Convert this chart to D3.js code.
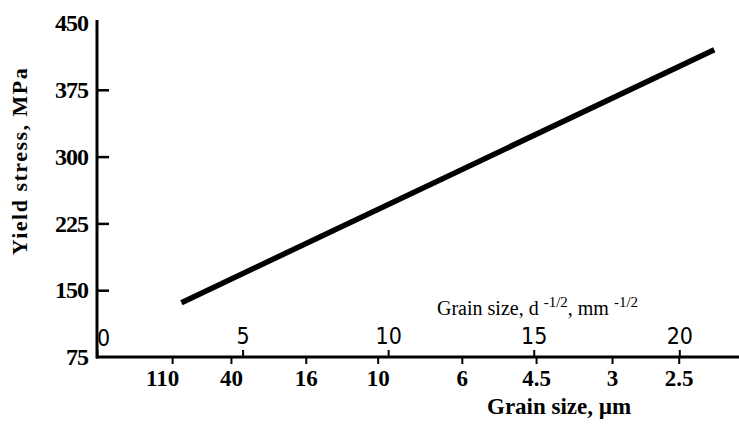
<!DOCTYPE html>
<html>
<head>
<meta charset="utf-8">
<script src="https://cdn.jsdelivr.net/npm/d3@7"></script>
<style>
  body { margin: 0; background: #fff; }
</style>
</head>
<body>
<div id="dataViz"></div>
<script>
//DATA
// yield stress line, x in d^-1/2 (mm^-1/2), y in MPa
let lineX = [2.9, 21.2];
let lineY = [136, 420];

// upper scale ticks (d^-1/2)
let topTicks = [0, 5, 10, 15, 20];
// lower scale: grain size in um, placed at these d^-1/2 positions
let bottomLabels = ["110", "40", "16", "10", "6", "4.5", "3", "2.5"];
let bottomPos = [2.58, 4.6, 7.17, 9.64, 12.53, 15.08, 17.69, 19.98];

// stress ticks
let yTicks = [75, 150, 225, 300, 375, 450];

//Create DIMENSIONS
let WIDTH = 739,
  HEIGHT = 427;

let svg = d3
  .select("#dataViz")
  .append("svg")
  .attr("width", WIDTH)
  .attr("height", HEIGHT);

//Scales
let xScale = d3.scaleLinear().domain([0, 22.05]).range([97, 739]);
let yScale = d3.scaleLinear().domain([75, 450]).range([357, 23]);

//Y-AXIS
let yAxis = svg
  .append("g")
  .attr("transform", "translate(97,0)")
  .call(
    d3.axisLeft(yScale).tickValues(yTicks).tickSize(-12).tickPadding(9)
  );
yAxis.select(".domain").remove();
yAxis
  .selectAll(".tick line")
  .attr("stroke", "#000")
  .attr("stroke-width", 2.5)
  .style("display", (d) => (d == 75 || d == 450 ? "none" : null));
yAxis
  .selectAll(".tick text")
  .attr("fill", "#000")
  .style("font-family", "'Liberation Serif', serif")
  .style("font-weight", "bold")
  .style("font-size", "24px")
  .style("letter-spacing", "-1px");

svg
  .append("line")
  .attr("x1", 97)
  .attr("x2", 97)
  .attr("y1", 20)
  .attr("y2", 358.5)
  .attr("stroke", "#000")
  .attr("stroke-width", 3);

//TOP SCALE (d^-1/2)
let topAxis = svg
  .append("g")
  .attr("transform", "translate(0,357)")
  .call(d3.axisTop(xScale).tickValues(topTicks).tickSize(7).tickPadding(6));
topAxis.select(".domain").remove();
topAxis
  .selectAll(".tick line")
  .attr("stroke", "#000")
  .attr("stroke-width", 2);
topAxis
  .selectAll(".tick text")
  .attr("fill", "#000")
  .attr("dx", (d) => (d == 0 ? 6 : 0))
  .attr("dy", (d) => (d == 0 ? "0.1em" : "0em"))
  .style("font-family", "'Liberation Sans Narrow', 'DejaVu Sans Condensed', sans-serif")
  .style("font-size", "23px");

//BOTTOM SCALE (grain size, um)
let bottomAxis = svg
  .append("g")
  .attr("transform", "translate(0,357)")
  .call(
    d3
      .axisBottom(xScale)
      .tickValues(bottomPos)
      .tickFormat((d, i) => bottomLabels[i])
      .tickSize(7)
      .tickPadding(6)
  );
bottomAxis.select(".domain").remove();
bottomAxis
  .selectAll(".tick line")
  .attr("stroke", "#000")
  .attr("stroke-width", 2);
bottomAxis
  .selectAll(".tick text")
  .attr("fill", "#000")
  .attr("dx", (d, i) => (i == 0 ? -10 : 0))
  .style("font-family", "'Liberation Serif', serif")
  .style("font-weight", "bold")
  .style("font-size", "23px");

svg
  .append("line")
  .attr("x1", 96)
  .attr("x2", 739)
  .attr("y1", 357)
  .attr("y2", 357)
  .attr("stroke", "#000")
  .attr("stroke-width", 3);

//Draw LINE
let lineData = lineX.map((x, i) => ({ x: x, y: lineY[i] }));
svg
  .append("path")
  .datum(lineData)
  .attr(
    "d",
    d3
      .line()
      .x((d) => xScale(d.x))
      .y((d) => yScale(d.y))
  )
  .attr("stroke", "#000")
  .style("stroke-width", 5.5)
  .style("fill", "none");

//Titles
svg
  .append("text")
  .attr("transform", "translate(27,161) rotate(-90)")
  .attr("text-anchor", "middle")
  .style("font-family", "'Liberation Serif', serif")
  .style("font-weight", "bold")
  .style("font-size", "22px")
  .style("letter-spacing", "1.5px")
  .text("Yield stress, MPa");

let topTitle = svg
  .append("text")
  .attr("x", 437)
  .attr("y", 315)
  .style("font-family", "'Liberation Serif', serif")
  .style("font-size", "20px");
topTitle.append("tspan").text("Grain size, d ");
topTitle.append("tspan").attr("dy", -8).style("font-size", "15px").text("-1/2");
topTitle.append("tspan").attr("dy", 8).text(", mm ");
topTitle.append("tspan").attr("dy", -8).style("font-size", "15px").text("-1/2");

svg
  .append("text")
  .attr("x", 487)
  .attr("y", 414)
  .style("font-family", "'Liberation Serif', serif")
  .style("font-weight", "bold")
  .style("font-size", "23px")
  .text("Grain size, \u00b5m");
</script>
</body>
</html>
